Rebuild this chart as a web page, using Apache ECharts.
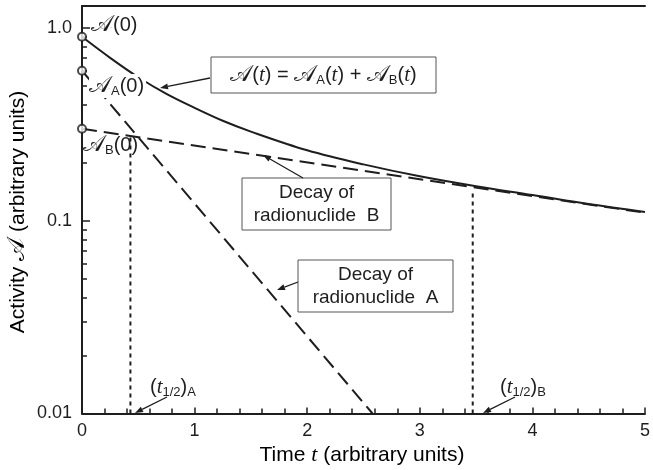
<!DOCTYPE html>
<html><head><meta charset="utf-8">
<script src="https://cdn.jsdelivr.net/npm/echarts@6/dist/echarts.min.js"></script>
<style>html,body{margin:0;padding:0;background:#fff}#c{width:653px;height:470px}</style>
</head><body><div id="c"></div>
<script>
// ---- data ----
const timeTotal = [0, 0.25, 0.5, 0.75, 1, 1.25, 1.5, 2, 2.5, 3, 3.5, 4, 4.5, 5];
const activityTotal = [0.9, 0.70, 0.555, 0.455, 0.385, 0.33, 0.29, 0.232, 0.196, 0.17, 0.151, 0.136, 0.122, 0.111];
const timeA = [0, 2.58];
const activityA = [0.6, 0.01];
const timeB = [0, 5];
const activityB = [0.3, 0.11];
const initialActivities = [0.9, 0.6, 0.3];
const halfLifeA = 0.43, halfTopA = 0.28;
const halfLifeB = 3.47, halfTopB = 0.14;
const yMajorTicks = [0.01, 0.1, 1];
const yMajorLabels = ['0.01', '0.1', '1.0'];
const yMinorTicks = [0.02,0.03,0.04,0.05,0.06,0.07,0.08,0.09,0.2,0.3,0.4,0.5,0.6,0.7,0.8,0.9];
const xTickLabels = ['0', '1', '2', '3', '4', '5'];

const INK = '#1e1e1e';
const SCRIPT = '𝒜';
const FONT = '"Liberation Sans", Arial, sans-serif';

const zip = (xs, ys) => xs.map((x, i) => [x, ys[i]]);

const chart = echarts.init(document.getElementById('c'), null, {renderer: 'canvas'});

function arrow(x1, y1, x2, y2) {
  const a = Math.atan2(y2 - y1, x2 - x1), L = 8, W = 3;
  const bx = x2 - L * Math.cos(a), by = y2 - L * Math.sin(a);
  const px = -Math.sin(a), py = Math.cos(a);
  return [
    {type: 'line', z: 100, shape: {x1, y1, x2: bx, y2: by}, style: {stroke: INK, lineWidth: 1.3}},
    {type: 'polygon', z: 100, shape: {points: [[x2, y2], [bx + W * px, by + W * py], [bx - W * px, by - W * py]]}, style: {fill: INK}}
  ];
}
function box(x, y, w, h) {
  return {type: 'rect', z: 100, shape: {x, y, width: w, height: h}, style: {fill: '#fff', stroke: '#555', lineWidth: 1}};
}
const rich = {
  n: {fontSize: 20, fontFamily: FONT, color: INK, lineHeight: 24},
  s: {fontSize: 23, fontFamily: '"DejaVu Serif", serif', color: INK, lineHeight: 24},
  i: {fontSize: 21, fontFamily: '"Liberation Serif", serif', fontStyle: 'italic', color: INK, lineHeight: 24},
  sub: {fontSize: 13, fontFamily: FONT, color: INK, lineHeight: 14, verticalAlign: 'bottom'}
};
function rtext(x, y, str, align, bg) {
  const st = {text: str, rich, align: align || 'left', verticalAlign: 'middle', font: '20px ' + FONT, fill: INK};
  if (bg) { st.backgroundColor = '#fff'; st.padding = [0, 2, 0, 0]; }
  return {type: 'text', z: 101, x, y, style: st};
}

const option = {
  animation: false,
  backgroundColor: '#fff',
  grid: {left: 82, right: 0, top: 6, bottom: 56.5, containLabel: false},
  xAxis: [{
    type: 'value', min: 0, max: 5, interval: 1,
    axisLine: {show: true, onZero: false, lineStyle: {color: INK, width: 2}},
    axisTick: {show: true, inside: true, length: 6, lineStyle: {color: INK, width: 1.5}},
    minorTick: {show: true, splitNumber: 5, length: 5, lineStyle: {color: INK, width: 1.5}},
    axisLabel: {fontSize: 18, fontFamily: FONT, color: INK, margin: 9, formatter: (v) => xTickLabels[Math.round(v)]},
    splitLine: {show: false}
  }, {
    type: 'value', position: 'top', min: 0, max: 5,
    axisLine: {show: true, lineStyle: {color: INK, width: 2}},
    axisTick: {show: false}, axisLabel: {show: false}, splitLine: {show: false}
  }],
  yAxis: [{
    type: 'log', logBase: 10, min: 0.01, max: 1.3,
    axisLine: {show: true, onZero: false, lineStyle: {color: INK, width: 2}},
    axisTick: {show: true, inside: true, length: 8, customValues: yMajorTicks, lineStyle: {color: INK, width: 1.5}},
    axisLabel: {fontSize: 18, fontFamily: FONT, color: INK, margin: 10, customValues: yMajorTicks,
      formatter: (v) => { const k = yMajorTicks.findIndex(m => Math.abs(Math.log10(m) - Math.log10(v)) < 1e-6); return k >= 0 ? yMajorLabels[k] : ''; }},
    splitLine: {show: false}
  }, {
    type: 'log', logBase: 10, min: 0.01, max: 1.3, position: 'left', offset: 0,
    axisLine: {show: false},
    axisTick: {show: true, inside: true, length: 5, customValues: yMinorTicks, lineStyle: {color: INK, width: 1.5}},
    axisLabel: {show: false}, splitLine: {show: false}
  }],
  series: [
    {type: 'line', name: 'total', data: zip(timeTotal, activityTotal), smooth: 0.35, symbol: 'none',
      lineStyle: {color: INK, width: 2}},
    {type: 'line', name: 'A', data: zip(timeA, activityA), symbol: 'none',
      lineStyle: {color: INK, width: 2, type: [15, 7]}},
    {type: 'line', name: 'B', data: zip(timeB, activityB), symbol: 'none',
      lineStyle: {color: INK, width: 2, type: [15, 7]}},
    {type: 'line', name: 'halfA', data: [[halfLifeA, 0.01], [halfLifeA, halfTopA]], symbol: 'none',
      lineStyle: {color: INK, width: 2, type: [4, 4]}},
    {type: 'line', name: 'halfB', data: [[halfLifeB, 0.01], [halfLifeB, halfTopB]], symbol: 'none',
      lineStyle: {color: INK, width: 2, type: [4, 4]}},
    {type: 'scatter', name: 'initial', data: initialActivities.map(v => [0, v]), symbol: 'circle', symbolSize: 8,
      clip: false, z: 5, itemStyle: {color: '#fff', borderColor: INK, borderWidth: 2}}
  ],
  graphic: [
    // axis titles
    {type: 'text', x: 362, y: 455, style: {text: '{n|Time }{i|t}{n| (arbitrary units)}', rich: {
      n: {fontSize: 21, fontFamily: FONT, color: INK}, i: {fontSize: 22, fontFamily: '"Liberation Serif", serif', fontStyle: 'italic', color: INK}},
      align: 'center', verticalAlign: 'middle'}},
    {type: 'text', x: 18, y: 212, rotation: Math.PI / 2, style: {text: '{n|Activity }{s|' + SCRIPT + '}{n| (arbitrary units)}', rich: {
      n: {fontSize: 21, fontFamily: FONT, color: INK}, s: {fontSize: 24, fontFamily: '"DejaVu Serif", serif', color: INK}},
      align: 'center', verticalAlign: 'middle'}},
    // initial value labels
    rtext(91, 25, '{s|' + SCRIPT + '}{n|(0)}'),
    rtext(89, 86, '{s|' + SCRIPT + '}{sub|A}{n|(0)}', 'left', true),
    rtext(83, 145, '{s|' + SCRIPT + '}{sub|B}{n|(0)}'),
    // total box
    box(211, 57, 225, 36),
    rtext(323.5, 75, '{s|' + SCRIPT + '}{n|(}{i|t}{n|) = }{s|' + SCRIPT + '}{sub|A}{n|(}{i|t}{n|) + }{s|' + SCRIPT + '}{sub|B}{n|(}{i|t}{n|)}', 'center'),
    ...arrow(210, 78, 160, 88),
    // B box
    box(242, 178, 149, 52),
    {type: 'text', z: 101, x: 316.5, y: 204, style: {text: 'Decay of\nradionuclide  B', font: '19px ' + FONT, fill: INK, align: 'center', verticalAlign: 'middle', lineHeight: 23}},
    ...arrow(303, 178, 263, 155),
    // A box
    box(298, 260, 155, 52),
    {type: 'text', z: 101, x: 375.5, y: 286, style: {text: 'Decay of\nradionuclide  A', font: '19px ' + FONT, fill: INK, align: 'center', verticalAlign: 'middle', lineHeight: 23}},
    ...arrow(298, 282, 277, 290),
    // half-life labels
    rtext(150, 387, '{n|(}{i|t}{sub|1/2}{n|)}{sub|A}'),
    ...arrow(167, 397, 135, 413),
    rtext(500, 387, '{n|(}{i|t}{sub|1/2}{n|)}{sub|B}'),
    ...arrow(515, 397, 483, 413)
  ]
};
chart.setOption(option);
</script></body></html>
